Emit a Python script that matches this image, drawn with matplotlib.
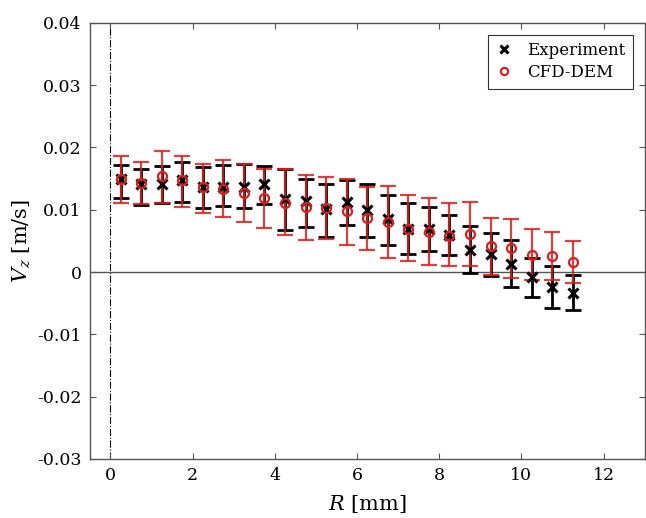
import matplotlib
matplotlib.use("Agg")
import matplotlib.pyplot as plt
import numpy as np

plt.rcParams['font.family'] = 'DejaVu Serif'
plt.rcParams['mathtext.fontset'] = 'dejavuserif'

# radial positions [mm]
R = [0.25, 0.75, 1.25, 1.75, 2.25, 2.75, 3.25, 3.75, 4.25, 4.75, 5.25, 5.75,
     6.25, 6.75, 7.25, 7.75, 8.25, 8.75, 9.25, 9.75, 10.25, 10.75, 11.25]

# experiment: mean, lower and upper bar ends [m/s]
exp_v = [0.0149, 0.0142, 0.0142, 0.0147, 0.0136, 0.0137, 0.0137, 0.0141, 0.0118, 0.0114, 0.0101, 0.0112,
         0.0100, 0.0085, 0.0069, 0.0069, 0.0059, 0.0036, 0.0029, 0.0013, -0.0008, -0.0024, -0.0034]
exp_lo = [0.0119, 0.0107, 0.0110, 0.0113, 0.0102, 0.0106, 0.0102, 0.0109, 0.0067, 0.0072, 0.0057, 0.0075,
          0.0057, 0.0043, 0.0029, 0.0033, 0.0027, -0.0001, -0.0006, -0.0024, -0.0040, -0.0057, -0.0061]
exp_hi = [0.0172, 0.0165, 0.0170, 0.0177, 0.0168, 0.0172, 0.0173, 0.0170, 0.0165, 0.0150, 0.0142, 0.0148,
          0.0141, 0.0124, 0.0110, 0.0105, 0.0092, 0.0074, 0.0063, 0.0051, 0.0023, 0.0010, -0.0005]

# CFD-DEM: mean, lower and upper bar ends [m/s]
cfd_v = [0.0150, 0.0143, 0.0154, 0.0148, 0.0136, 0.0134, 0.0127, 0.0119, 0.0111, 0.0104, 0.0102, 0.0098,
         0.0086, 0.0080, 0.0069, 0.0065, 0.0058, 0.0061, 0.0041, 0.0038, 0.0027, 0.0026, 0.0016]
cfd_lo = [0.0111, 0.0109, 0.0111, 0.0105, 0.0094, 0.0089, 0.0081, 0.0070, 0.0060, 0.0051, 0.0053, 0.0044,
          0.0036, 0.0022, 0.0017, 0.0011, 0.0009, 0.0009, -0.0005, -0.0009, -0.0013, -0.0013, -0.0018]
cfd_hi = [0.0186, 0.0177, 0.0194, 0.0186, 0.0174, 0.0180, 0.0173, 0.0166, 0.0165, 0.0156, 0.0152, 0.0149,
          0.0136, 0.0138, 0.0123, 0.0119, 0.0111, 0.0112, 0.0087, 0.0085, 0.0069, 0.0064, 0.0049]

exp_v, exp_lo, exp_hi = np.array(exp_v), np.array(exp_lo), np.array(exp_hi)
cfd_v, cfd_lo, cfd_hi = np.array(cfd_v), np.array(cfd_lo), np.array(cfd_hi)

red = '#d42020'

fig = plt.figure(figsize=(6.46, 5.18), dpi=100)
ax = fig.add_axes([0.139, 0.114, 0.859, 0.842])

ax.axvline(0, color='k', lw=0.8, ls='-.', zorder=1)
ax.axhline(0, color='#555555', lw=1.0, zorder=1)

ax.errorbar(R, exp_v, yerr=[exp_v - exp_lo, exp_hi - exp_v], fmt='none',
            ecolor='k', elinewidth=2.0, capsize=6, capthick=2.0, zorder=2)
ax.errorbar(R, cfd_v, yerr=[cfd_v - cfd_lo, cfd_hi - cfd_v], fmt='none',
            ecolor=red, elinewidth=1.6, capsize=6, capthick=1.6, alpha=0.85, zorder=3)
ax.plot(R, exp_v, 'x', color='k', ms=6.5, mew=2.2, zorder=4, label='Experiment')
ax.plot(R, cfd_v, 'o', mfc='none', mec=red, ms=6.5, mew=1.6, zorder=5, label='CFD-DEM')

ax.set_xlim(-0.5, 13)
ax.set_ylim(-0.03, 0.04)
ax.set_xticks([0, 2, 4, 6, 8, 10, 12])
ax.set_yticks([-0.03, -0.02, -0.01, 0, 0.01, 0.02, 0.03, 0.04])
ax.set_yticklabels(['-0.03', '-0.02', '-0.01', '0', '0.01', '0.02', '0.03', '0.04'])
ax.tick_params(direction='in', length=4, width=0.8, top=True, right=True,
               labelsize=12.5, colors='#555555', labelcolor='k', pad=6)
for s in ax.spines.values():
    s.set_color('#555555')
    s.set_linewidth(1.0)

ax.set_xlabel(r'$R$ [mm]', fontsize=15, labelpad=6)
ax.set_ylabel(r'$V_z$ [m/s]', fontsize=15, labelpad=3)

leg = ax.legend(loc='upper right', fontsize=12, fancybox=False, framealpha=1,
                edgecolor='#333333', handlelength=1.0, borderaxespad=0.72,
                handletextpad=0.9, borderpad=0.45, labelspacing=0.3, markerscale=0.8)
leg.get_frame().set_linewidth(0.8)

fig.savefig('out.png', dpi=100)
